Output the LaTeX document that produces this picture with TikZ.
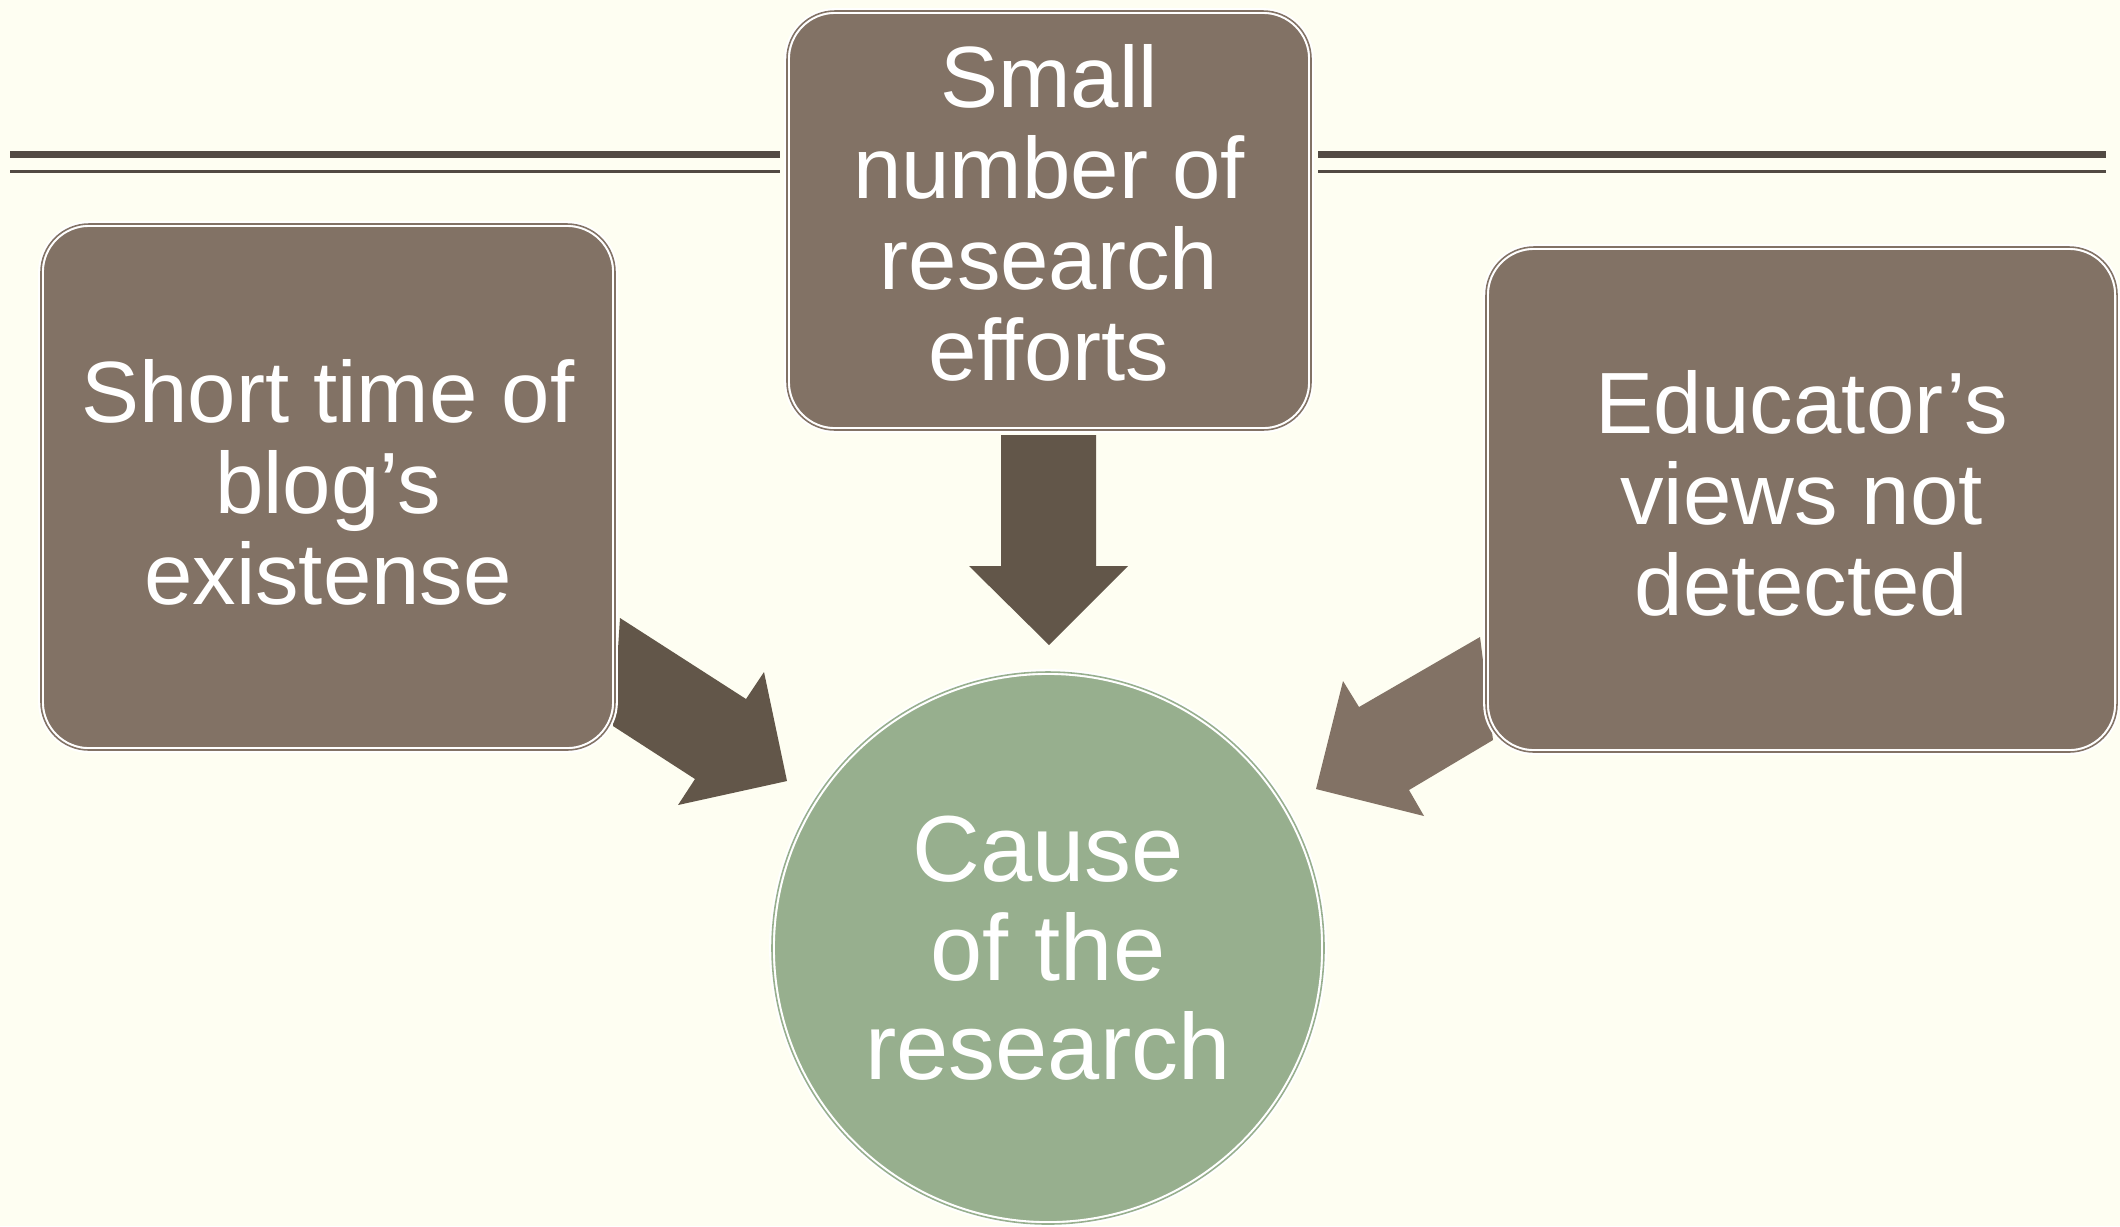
\documentclass[tikz,border=0pt]{standalone}
\usepackage{fontspec}
\setmainfont{Liberation Sans}
\definecolor{bgcol}{HTML}{FEFEF2}
\definecolor{boxcol}{HTML}{827265}
\definecolor{arrdark}{HTML}{625649}
\definecolor{circcol}{HTML}{97AF8E}
\definecolor{linecol}{HTML}{524A43}
\tikzset{
  boxnode/.style={rectangle, rounded corners=0.48cm, fill=boxcol, draw=white, double=boxcol,
    line width=0.6pt, double distance=0.45pt, inner sep=0pt, outer sep=0pt},
  circnode/.style={circle, fill=circcol, draw=white, double=circcol,
    line width=0.6pt, double distance=0.45pt, inner sep=0pt, outer sep=0pt},
  boxtext/.style={inner sep=0pt, text=white, align=center, font=\fontsize{24.75pt}{25.9pt}\selectfont},
  circtext/.style={inner sep=0pt, text=white, align=center, font=\fontsize{26.7pt}{28.2pt}\selectfont},
  thickrule/.style={draw=linecol, line width=0.075cm},
  thinrule/.style={draw=linecol, line width=0.03cm},
}
\begin{document}
\begin{tikzpicture}
\useasboundingbox (0,0) rectangle (21.2,-12.26);
\fill[bgcol] (0,0) rectangle (21.2,-12.26);
% horizontal rules
\draw[thickrule] (0.10,-1.545) -- (7.80,-1.545);
\draw[thinrule] (0.10,-1.715) -- (7.80,-1.715);
\draw[thickrule] (13.18,-1.545) -- (21.06,-1.545);
\draw[thinrule] (13.18,-1.715) -- (21.06,-1.715);
% block arrows
\fill[arrdark] (6.20,-6.18) -- (7.46,-6.99) -- (7.64,-6.72) -- (7.87,-7.81) -- (6.78,-8.05) -- (6.95,-7.79) -- (6.13,-7.26) -- cycle;
\fill[arrdark] (10.01,-4.35) -- (10.96,-4.35) -- (10.96,-5.66) -- (11.28,-5.66) -- (10.49,-6.45) -- (9.69,-5.66) -- (10.01,-5.66) -- cycle;
\fill[boxcol] (14.80,-6.37) -- (13.59,-7.07) -- (13.43,-6.81) -- (13.16,-7.89) -- (14.24,-8.16) -- (14.09,-7.90) -- (14.93,-7.40) -- cycle;
% boxes
\node[boxnode, minimum width=5.74cm, minimum height=5.26cm] (short) at (3.28,-4.87) {};
\node[boxnode, minimum width=5.24cm, minimum height=4.19cm] (small) at (10.49,-2.205) {};
\node[boxnode, minimum width=6.31cm, minimum height=5.05cm] (edu) at (18.015,-4.995) {};
\node[circnode, minimum size=5.52cm] (cause) at (10.48,-9.48) {};
% texts
\node[boxtext] (shorttext) at ([yshift=0.05cm]short.center) {Short time of\\blog’s\\existense};
\node[boxtext] (smalltext) at ([yshift=0.08cm]small.center) {Small\\number of\\research\\efforts};
\node[boxtext] (edutext) at ([yshift=0.06cm]edu.center) {Educator’s\\views not\\detected};
\node[circtext] (causetext) at (cause.center) {Cause\\of the\\research};
\end{tikzpicture}
\end{document}
